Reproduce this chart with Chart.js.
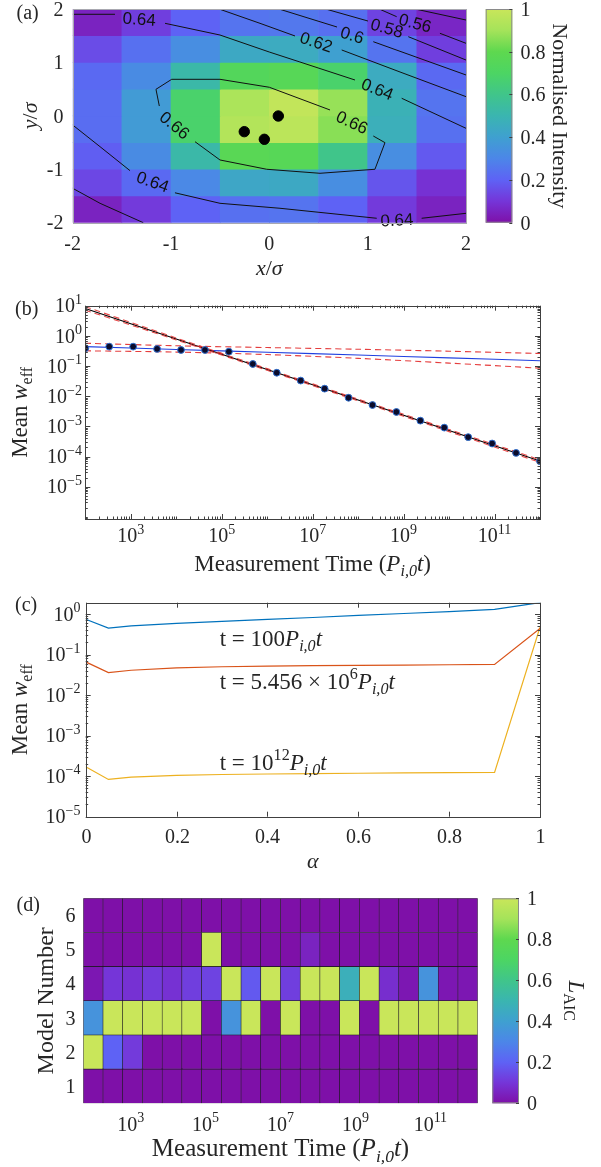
<!DOCTYPE html>
<html>
<head>
<meta charset="utf-8">
<script src="https://cdn.jsdelivr.net/npm/chart.js@4.4.1/dist/chart.umd.min.js"></script>
<style>
  body { margin: 0; background: #fff; }
  .panel { position: absolute; left: 0; }
</style>
</head>
<body>
<canvas id="chartA" class="panel" style="top:0" width="601" height="290"></canvas>
<canvas id="chartB" class="panel" style="top:290px" width="601" height="300"></canvas>
<canvas id="chartC" class="panel" style="top:590px" width="601" height="290"></canvas>
<canvas id="chartD" class="panel" style="top:880px" width="601" height="287"></canvas>
<script>
// ---------- panel (a): intensity map ----------
const gridX = [-1.75, -1.25, -0.75, -0.25, 0.25, 0.75, 1.25, 1.75];
const gridY = [1.75, 1.25, 0.75, 0.25, -0.25, -0.75, -1.25, -1.75];
const intensity = [
  [0.05, 0.12, 0.20, 0.25, 0.26, 0.24, 0.13, 0.06],
  [0.15, 0.24, 0.33, 0.44, 0.45, 0.40, 0.25, 0.12],
  [0.22, 0.32, 0.52, 0.74, 0.76, 0.68, 0.45, 0.22],
  [0.23, 0.38, 0.68, 0.92, 0.98, 0.88, 0.48, 0.25],
  [0.23, 0.38, 0.68, 0.94, 0.96, 0.86, 0.47, 0.24],
  [0.19, 0.32, 0.52, 0.77, 0.76, 0.60, 0.33, 0.18],
  [0.14, 0.22, 0.31, 0.43, 0.44, 0.33, 0.17, 0.09],
  [0.05, 0.11, 0.20, 0.24, 0.25, 0.20, 0.11, 0.05]
];
const emitterX = [-0.255, -0.051, 0.091];
const emitterY = [-0.296, -0.439, -0.003];
const contourLines = [
  [[-2.0, 1.901], [-1.570, 1.901]],
  [[-1.061, 1.732], [-0.502, 1.513], [-0.001, 1.195], [0.311, 1.008], [0.871, 0.671]],
  [[1.346, 0.329], [2.0, -0.233]],
  [[-0.502, 1.994], [-0.095, 1.732], [0.261, 1.495]],
  [[0.736, 1.233], [1.329, 0.821], [2.0, 0.359]],
  [[0.108, 1.994], [0.688, 1.663]],
  [[1.057, 1.388], [2.0, 0.765]],
  [[0.583, 1.994], [1.003, 1.775]],
  [[1.413, 1.482], [2.0, 1.045]],
  [[1.125, 1.994], [1.295, 1.856]],
  [[1.735, 1.545], [2.0, 1.358]],
  [[1.498, 1.994], [2.0, 1.794]],
  [[-1.119, 0.184], [-1.153, 0.497], [-0.993, 0.684], [-0.502, 0.684], [0.0, 0.535], [0.617, 0.110]],
  [[1.057, -0.377], [1.176, -0.502], [1.074, -1.0], [0.515, -1.075], [-0.027, -1.0], [-0.502, -0.826], [-0.756, -0.484]],
  [[-2.0, -0.171], [-1.722, -0.577], [-1.417, -1.026]],
  [[-0.96, -1.44], [-0.502, -1.637], [0.108, -1.73], [1.092, -1.917]],
  [[1.549, -1.917], [2.0, -1.824]],
  [[-2.0, -1.356], [-1.722, -1.637], [-1.282, -2.0]]
];
const contourLabels = [
  ['0.64', -1.324, 1.794, 4],
  ['0.62', 0.474, 1.364, 18],
  ['0.6', 0.840, 1.495, 17],
  ['0.58', 1.193, 1.626, 16],
  ['0.56', 1.481, 1.719, 15],
  ['0.64', 1.095, 0.484, 22],
  ['0.66', 0.837, -0.139, 25],
  ['0.66', -0.970, -0.190, 40],
  ['0.64', -1.190, -1.251, 20],
  ['0.64', 1.298, -1.968, -3]
];
const axisTicksA = [-2, -1, 0, 1, 2];
const colorbarTicks = [0, 0.2, 0.4, 0.6, 0.8, 1];

// ---------- panel (b): mean w_eff vs time ----------
const measurementTimes = [1e2, 336, 1129, 3793, 12743, 42813, 143845, 483293, 1.624e6, 5.456e6,
  1.833e7, 6.159e7, 2.069e8, 6.952e8, 2.336e9, 7.848e9, 2.637e10, 8.859e10, 2.976e11, 1e12];
const meanWeff = [0.39, 0.44, 0.44, 0.37, 0.34, 0.34, 0.30, 0.117, 0.060, 0.033,
  0.0178, 0.0089, 0.0051, 0.0030, 0.00155, 0.00091, 0.00044, 0.00027, 0.000132, 0.00007];
const fitTimes = [1e2, 1e4, 1e6, 1e8, 1e10, 1e12];
const steepFit = [8.13, 0.791, 0.0769, 0.00748, 0.000728, 0.0000708];
const steepUpper = [9.3, 0.85, 0.082, 0.0080, 0.00079, 0.0000780];
const steepLower = [7.1, 0.735, 0.0720, 0.0070, 0.00067, 0.0000642];
const flatFit = [0.44, 0.355, 0.287, 0.232, 0.186, 0.150];
const flatUpper = [0.57, 0.47, 0.41, 0.36, 0.31, 0.26];
const flatLower = [0.32, 0.29, 0.24, 0.18, 0.125, 0.085];
const timeLabelExps = [3, 5, 7, 9, 11];
const weffLabelExps = [1, 0, -1, -2, -3, -4, -5];

// ---------- panel (c): mean w_eff vs alpha ----------
const alphaValues = [0, 0.05, 0.1, 0.2, 0.3, 0.4, 0.5, 0.6, 0.7, 0.8, 0.9, 1.0];
const weffT100 = [0.74, 0.45, 0.51, 0.59, 0.66, 0.74, 0.82, 0.92, 1.03, 1.15, 1.30, 1.9];
const weffT5e6 = [0.066, 0.036, 0.041, 0.047, 0.050, 0.052, 0.053, 0.054, 0.055, 0.056, 0.057, 0.44];
const weffT1e12 = [1.7e-4, 8.3e-5, 9.5e-5, 1.05e-4, 1.1e-4, 1.13e-4, 1.16e-4, 1.18e-4, 1.2e-4, 1.22e-4, 1.23e-4, 0.47];
const alphaTicks = [0, 0.2, 0.4, 0.6, 0.8, 1];
const alphaLabelExps = [0, -1, -2, -3, -4, -5];

// ---------- panel (d): relative likelihood per model ----------
const modelNumbers = [1, 2, 3, 4, 5, 6];
const laicModel1 = [0, 0, 0, 0, 0, 0, 0, 0, 0, 0, 0, 0, 0, 0, 0, 0, 0, 0, 0, 0];
const laicModel2 = [1, 0.2, 0.11, 0, 0, 0, 0, 0, 0, 0, 0, 0, 0, 0, 0, 0, 0, 0, 0, 0];
const laicModel3 = [0.35, 1, 1, 1, 1, 1, 0, 0.35, 1, 0, 1, 0, 0, 1, 0, 1, 1, 1, 1, 1];
const laicModel4 = [0.02, 0.1, 0.09, 0.11, 0.09, 0.12, 0.13, 1, 0.18, 1, 0.12, 1, 1, 0.47, 1, 0.08, 0.02, 0.35, 0.02, 0.02];
const laicModel5 = [0, 0, 0, 0, 0, 0, 1, 0, 0, 0, 0, 0.05, 0, 0, 0, 0, 0, 0, 0, 0];
const laicModel6 = [0, 0, 0, 0, 0, 0, 0, 0, 0, 0, 0, 0, 0, 0, 0, 0, 0, 0, 0, 0];
const laicRows = [laicModel1, laicModel2, laicModel3, laicModel4, laicModel5, laicModel6];

// ---------- shared styling ----------
const FONT = '"Liberation Serif", "Times New Roman", serif';
const TXT = '#262626';
const AXIS = '#404040';
const cmapStops = [
  [0.0, [126, 16, 168]], [0.1, [117, 53, 216]], [0.2, [94, 98, 245]], [0.3, [76, 134, 232]],
  [0.4, [63, 160, 208]], [0.5, [58, 181, 176]], [0.6, [64, 197, 138]], [0.7, [76, 213, 99]],
  [0.8, [94, 216, 79]], [0.9, [165, 227, 90]], [1.0, [201, 230, 90]]
];

function cmap(v) {
  v = Math.max(0, Math.min(1, v));
  for (let i = 1; i < cmapStops.length; i++) {
    const [v1, c1] = cmapStops[i];
    const [v0, c0] = cmapStops[i - 1];
    if (v <= v1) {
      const f = (v - v0) / (v1 - v0);
      const c = c0.map((ch, k) => Math.round(ch + f * (c1[k] - ch)));
      return `rgb(${c[0]},${c[1]},${c[2]})`;
    }
  }
  return 'rgb(201,230,90)';
}

function font(size, italic) {
  return (italic ? 'italic ' : '') + size + 'px ' + FONT;
}

// segments: [text, kind] with kind r roman, i italic, b subscript, bi italic subscript, p superscript
function drawRich(ctx, segs, x, y, size, align = 'left', angle = 0) {
  let w = 0;
  const parts = segs.map(([t, k]) => {
    const small = k === 'b' || k === 'bi' || k === 'p';
    const f = font(small ? size * 0.7 : size, k === 'i' || k === 'bi');
    ctx.font = f;
    const width = ctx.measureText(t).width;
    const dy = k === 'p' ? -size * 0.42 : (small ? size * 0.22 : 0);
    const p = { t, f, dx: w, dy };
    w += width;
    return p;
  });
  const x0 = align === 'center' ? -w / 2 : align === 'right' ? -w : 0;
  ctx.save();
  ctx.translate(x, y);
  if (angle) ctx.rotate(angle);
  ctx.fillStyle = TXT;
  ctx.textAlign = 'left';
  ctx.textBaseline = 'alphabetic';
  parts.forEach(p => { ctx.font = p.f; ctx.fillText(p.t, x0 + p.dx, p.dy); });
  ctx.restore();
}

const pow10 = e => [['10', 'r'], [String(e).replace('-', '\u2212'), 'p']];
const timeTitle = [['Measurement Time (', 'r'], ['P', 'i'], ['i,0', 'bi'], ['t', 'i'], [')', 'r']];
const weffTitle = [['Mean ', 'r'], ['w', 'i'], ['eff', 'b']];

function drawBox(ctx, a, color) {
  ctx.save();
  ctx.strokeStyle = color;
  ctx.lineWidth = 1;
  ctx.strokeRect(Math.round(a.left) + 0.5, Math.round(a.top) + 0.5,
    Math.round(a.right) - Math.round(a.left), Math.round(a.bottom) - Math.round(a.top));
  ctx.restore();
}

function tickLine(ctx, x1, y1, x2, y2) {
  ctx.beginPath();
  ctx.moveTo(x1, y1);
  ctx.lineTo(x2, y2);
  ctx.stroke();
}

function logMarks(min, max) {
  const out = [];
  for (let e = Math.floor(Math.log10(min)); e <= Math.ceil(Math.log10(max)); e++) {
    for (let k = 1; k < 10; k++) {
      const v = k * Math.pow(10, e);
      if (v >= min * 0.999 && v <= max * 1.001) out.push({ v, e, k });
    }
  }
  return out;
}

// ticks on both horizontal edges (x) or both vertical edges (y)
function drawLogTicks(ctx, scale, a, horizontal, majorExps) {
  ctx.save();
  ctx.strokeStyle = AXIS;
  ctx.lineWidth = 1;
  logMarks(scale.min, scale.max).forEach(m => {
    const major = m.k === 1 && majorExps.includes(m.e);
    const len = major ? 5 : 2.5;
    const p = Math.round(scale.getPixelForValue(m.v)) + 0.5;
    if (horizontal) {
      tickLine(ctx, p, a.bottom, p, a.bottom - len);
      tickLine(ctx, p, a.top, p, a.top + len);
    } else {
      tickLine(ctx, a.left, p, a.left + len, p);
      tickLine(ctx, a.right, p, a.right - len, p);
    }
  });
  ctx.restore();
}

function drawColorbar(ctx, cb, left, right, labelX, title, titleX, titleSize) {
  const top = cb.getPixelForValue(1);
  const bottom = cb.getPixelForValue(0);
  const grad = ctx.createLinearGradient(0, bottom, 0, top);
  cmapStops.forEach(([v, c]) => grad.addColorStop(v, `rgb(${c[0]},${c[1]},${c[2]})`));
  ctx.save();
  ctx.fillStyle = grad;
  ctx.fillRect(left, top, right - left, bottom - top);
  ctx.strokeStyle = '#8a8a8a';
  ctx.lineWidth = 1;
  ctx.strokeRect(left + 0.5, top + 0.5, right - left - 1, bottom - top - 1);
  ctx.strokeStyle = AXIS;
  colorbarTicks.forEach(v => {
    const py = Math.round(cb.getPixelForValue(v)) + 0.5;
    tickLine(ctx, right, py, right - 3, py);
    drawRich(ctx, [[String(v), 'r']], labelX, py + 6.7, 20, 'left');
  });
  ctx.restore();
  drawRich(ctx, title, titleX, (top + bottom) / 2, titleSize, 'center', Math.PI / 2);
}

const baseOptions = (padding) => ({
  responsive: false,
  animation: false,
  devicePixelRatio: 1,
  layout: { padding },
  plugins: { legend: { display: false }, tooltip: { enabled: false } }
});

// ---------- chart (a) ----------
const dsA = [];
gridY.forEach((yc, r) => dsA.push({
  type: 'bar',
  data: gridX.map(xc => ({ x: xc, y: [yc - 0.25, yc + 0.25] })),
  backgroundColor: intensity[r].map(cmap),
  grouped: false, barPercentage: 1, categoryPercentage: 1, borderWidth: 0, order: 3
}));
contourLines.forEach(seg => dsA.push({
  type: 'line',
  data: seg.map(([x, y]) => ({ x, y })),
  borderColor: '#111', borderWidth: 1, pointRadius: 0, tension: 0, fill: false, order: 2
}));
dsA.push({
  type: 'scatter',
  data: emitterX.map((x, i) => ({ x, y: emitterY[i] })),
  backgroundColor: '#000', borderColor: '#000', pointRadius: 5.2, order: 1
});

const panelA = {
  id: 'panelA',
  afterDatasetsDraw(chart) {
    const { ctx, chartArea: a, scales: { x, y, cb } } = chart;
    ctx.save();
    ctx.fillStyle = '#111';
    ctx.font = '17px "Liberation Sans", Arial, sans-serif';
    ctx.textAlign = 'center';
    ctx.textBaseline = 'middle';
    contourLabels.forEach(([t, lx, ly, ang]) => {
      ctx.save();
      ctx.translate(x.getPixelForValue(lx), y.getPixelForValue(ly));
      ctx.rotate(ang * Math.PI / 180);
      ctx.fillText(t, 0, 0);
      ctx.restore();
    });
    ctx.restore();
    drawBox(ctx, a, '#a8a8b0');
    axisTicksA.forEach(v => {
      drawRich(ctx, [[String(v), 'r']], x.getPixelForValue(v), a.bottom + 27.5, 20, 'center');
      drawRich(ctx, [[String(v), 'r']], 63.5, y.getPixelForValue(v) + 6.7, 20, 'right');
    });
    drawRich(ctx, [['x', 'i'], ['/', 'r'], ['\u03c3', 'i']], (a.left + a.right) / 2, 275, 22, 'center');
    drawRich(ctx, [['y', 'i'], ['/', 'r'], ['\u03c3', 'i']], 37, (a.top + a.bottom) / 2, 22, 'center', -Math.PI / 2);
    drawRich(ctx, [['(a)', 'r']], 16.5, 18.5, 20);
    drawColorbar(ctx, cb, 485.7, 512.3, 520.5, [['Normalised Intensity', 'r']], 553, 22);
  }
};

new Chart(document.getElementById('chartA'), {
  type: 'bar',
  data: { datasets: dsA },
  options: {
    ...baseOptions({ left: 72.7, top: 9, right: 135, bottom: 67.3 }),
    scales: {
      x: { type: 'linear', min: -2, max: 2, offset: false, display: false, ticks: { stepSize: 1 } },
      y: { type: 'linear', min: -2, max: 2, display: false },
      cb: { type: 'linear', position: 'right', min: 0, max: 1, display: false }
    }
  },
  plugins: [panelA]
});

// ---------- chart (b) ----------
const xyPairs = (xs, ys) => xs.map((v, i) => ({ x: v, y: ys[i] }));
const lineDs = (ys, color, dash, order) => ({
  data: xyPairs(fitTimes, ys), showLine: true, borderColor: color, borderWidth: 1.1,
  borderDash: dash, pointRadius: 0, tension: 0.3, order
});

const panelB = {
  id: 'panelB',
  afterDatasetsDraw(chart) {
    const { ctx, chartArea: a, scales: { x, y } } = chart;
    drawBox(ctx, a, AXIS);
    drawLogTicks(ctx, x, a, true, timeLabelExps);
    drawLogTicks(ctx, y, a, false, weffLabelExps);
    timeLabelExps.forEach(e => drawRich(ctx, pow10(e), x.getPixelForValue(Math.pow(10, e)), a.bottom + 23, 20, 'center'));
    weffLabelExps.forEach(e => drawRich(ctx, pow10(e), 82, y.getPixelForValue(Math.pow(10, e)) + 6.7, 20, 'right'));
    drawRich(ctx, timeTitle, (a.left + a.right) / 2, 281, 23, 'center');
    drawRich(ctx, weffTitle, 27, (a.top + a.bottom) / 2, 23, 'center', -Math.PI / 2);
    drawRich(ctx, [['(b)', 'r']], 15, 25, 20);
  }
};

new Chart(document.getElementById('chartB'), {
  type: 'scatter',
  data: {
    datasets: [
      { data: xyPairs(measurementTimes, meanWeff), backgroundColor: '#0b0b2a', borderColor: '#2f6fd0',
        borderWidth: 1, pointRadius: 3.4, order: 0 },
      lineDs(steepUpper, 'rgba(226,40,40,0.85)', [6, 4], 1),
      lineDs(steepLower, 'rgba(226,40,40,0.85)', [6, 4], 1),
      lineDs(flatUpper, 'rgba(226,40,40,0.9)', [6, 4], 1),
      lineDs(flatLower, 'rgba(226,40,40,0.9)', [6, 4], 1),
      lineDs(steepFit, '#000', [], 2),
      lineDs(flatFit, '#2040e0', [], 2)
    ]
  },
  options: {
    ...baseOptions({ left: 85.3, top: 15.7, right: 61, bottom: 71 }),
    scales: {
      x: { type: 'logarithmic', min: 1e2, max: 1e12, display: false },
      y: { type: 'logarithmic', min: 8.5e-7, max: 10, display: false }
    }
  },
  plugins: [panelB]
});

// ---------- chart (c) ----------
const cAnnotations = [
  [[['t = 100', 'r'], ['P', 'i'], ['i,0', 'bi'], ['t', 'i']], 0.295, 0.236],
  [[['t = 5.456 \u00d7 10', 'r'], ['6', 'p'], ['P', 'i'], ['i,0', 'bi'], ['t', 'i']], 0.295, 0.0215],
  [[['t = 10', 'r'], ['12', 'p'], ['P', 'i'], ['i,0', 'bi'], ['t', 'i']], 0.295, 2.1e-4]
];

const panelC = {
  id: 'panelC',
  afterDatasetsDraw(chart) {
    const { ctx, chartArea: a, scales: { x, y } } = chart;
    drawBox(ctx, a, AXIS);
    drawLogTicks(ctx, y, a, false, alphaLabelExps);
    ctx.save();
    ctx.strokeStyle = AXIS;
    alphaTicks.forEach(v => {
      const px = Math.round(x.getPixelForValue(v)) + 0.5;
      tickLine(ctx, px, a.bottom, px, a.bottom - 5);
      tickLine(ctx, px, a.top, px, a.top + 5);
      drawRich(ctx, [[String(v), 'r']], px, a.bottom + 26.7, 20, 'center');
    });
    ctx.restore();
    alphaLabelExps.forEach(e => drawRich(ctx, pow10(e), 80.5, y.getPixelForValue(Math.pow(10, e)) + 6.7, 20, 'right'));
    cAnnotations.forEach(([segs, ax, ay]) => drawRich(ctx, segs, x.getPixelForValue(ax), y.getPixelForValue(ay) + 7, 23));
    drawRich(ctx, [['\u03b1', 'i']], (a.left + a.right) / 2, 278, 22, 'center');
    drawRich(ctx, weffTitle, 27, (a.top + a.bottom) / 2, 23, 'center', -Math.PI / 2);
    drawRich(ctx, [['(c)', 'r']], 15, 21, 20);
  }
};

const alphaLine = (ys, color) => ({
  data: xyPairs(alphaValues, ys), showLine: true, borderColor: color, borderWidth: 1.2,
  pointRadius: 0, tension: 0
});

new Chart(document.getElementById('chartC'), {
  type: 'scatter',
  data: {
    datasets: [
      alphaLine(weffT100, '#0072BD'),
      alphaLine(weffT5e6, '#D95319'),
      alphaLine(weffT1e12, '#EDB120')
    ]
  },
  options: {
    ...baseOptions({ left: 85.7, top: 12.7, right: 61, bottom: 63.3 }),
    scales: {
      x: { type: 'linear', min: 0, max: 1, display: false },
      y: { type: 'logarithmic', min: 1e-5, max: 1.9, display: false }
    }
  },
  plugins: [panelC]
});

// ---------- chart (d) ----------
const logTimes = measurementTimes.map(t => Math.log10(t));
const halfCell = (logTimes[19] - logTimes[0]) / 38;

const panelD = {
  id: 'panelD',
  afterDatasetsDraw(chart) {
    const { ctx, chartArea: a, scales: { x, y, cb } } = chart;
    timeLabelExps.forEach(e => drawRich(ctx, pow10(e), x.getPixelForValue(e), a.bottom + 27.4, 20, 'center'));
    modelNumbers.forEach(m => drawRich(ctx, [[String(m), 'r']], 75.5, y.getPixelForValue(m) + 6.7, 20, 'right'));
    drawRich(ctx, timeTitle, (a.left + a.right) / 2, 276, 25, 'center');
    drawRich(ctx, [['Model Number', 'r']], 53, (a.top + a.bottom) / 2, 24, 'center', -Math.PI / 2);
    drawRich(ctx, [['(d)', 'r']], 16.5, 31, 20);
    drawColorbar(ctx, cb, 492.3, 519, 527, [['L', 'i'], ['AIC', 'b']], 569, 23);
  }
};

new Chart(document.getElementById('chartD'), {
  type: 'bar',
  data: {
    datasets: laicRows.map((row, r) => ({
      data: logTimes.map(lt => ({ x: lt, y: [modelNumbers[r] - 0.5, modelNumbers[r] + 0.5] })),
      backgroundColor: row.map(cmap),
      borderColor: 'rgba(25,20,30,0.95)', borderWidth: 0.6, borderSkipped: false,
      grouped: false, barPercentage: 1, categoryPercentage: 1
    }))
  },
  options: {
    ...baseOptions({ left: 83.3, top: 18.3, right: 123.3, bottom: 63.7 }),
    scales: {
      x: { type: 'linear', min: logTimes[0] - halfCell, max: logTimes[19] + halfCell, offset: false,
        display: false, ticks: { stepSize: 2 } },
      y: { type: 'linear', min: 0.5, max: 6.5, display: false },
      cb: { type: 'linear', position: 'right', min: 0, max: 1, display: false }
    }
  },
  plugins: [panelD]
});
</script>
</body>
</html>
